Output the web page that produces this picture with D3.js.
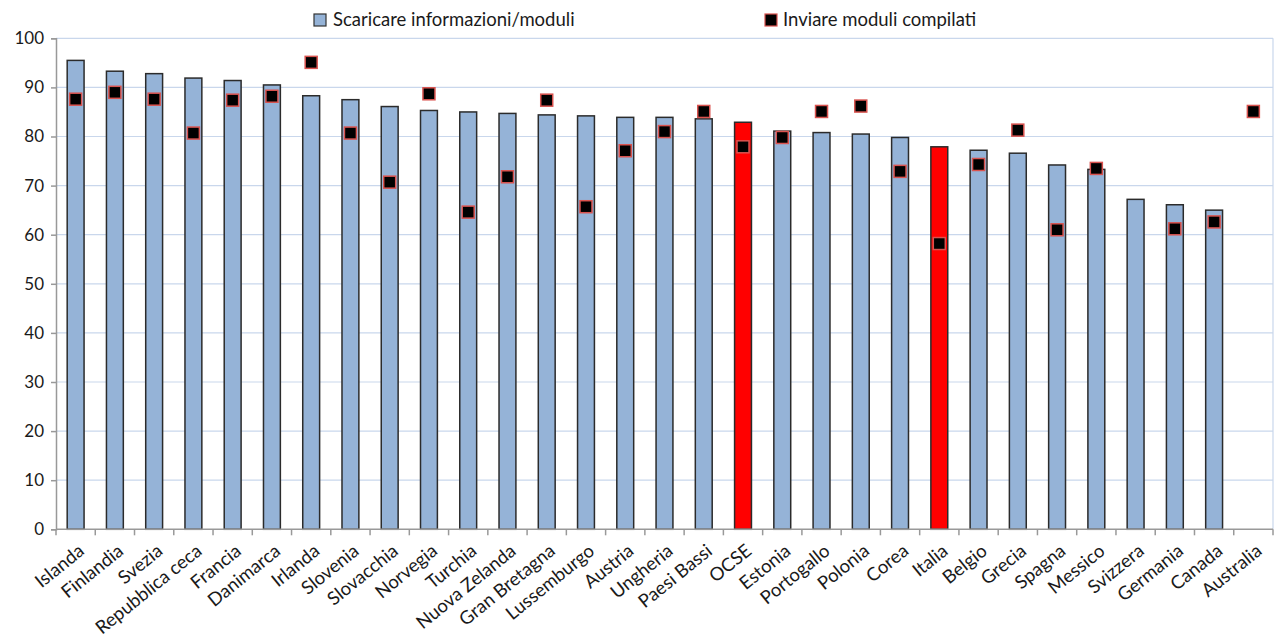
<!DOCTYPE html>
<html><head><meta charset="utf-8">
<script src="https://cdn.jsdelivr.net/npm/d3@7/dist/d3.min.js"></script>
<style>body{margin:0;background:#fff;} svg{display:block;}</style>
</head><body>
<svg id="c" width="1277" height="637"></svg>
<script>
const categories = ["Islanda","Finlandia","Svezia","Repubblica ceca","Francia","Danimarca","Irlanda","Slovenia","Slovacchia","Norvegia","Turchia","Nuova Zelanda","Gran Bretagna","Lussemburgo","Austria","Ungheria","Paesi Bassi","OCSE","Estonia","Portogallo","Polonia","Corea","Italia","Belgio","Grecia","Spagna","Messico","Svizzera","Germania","Canada","Australia"];
const scaricare = [95.5,93.3,92.8,91.9,91.4,90.5,88.3,87.5,86.1,85.3,85.0,84.7,84.4,84.2,83.9,83.9,83.6,82.9,81.1,80.8,80.5,79.8,77.9,77.2,76.6,74.2,73.3,67.2,66.1,65.0,null];
const inviare = [87.6,89.0,87.6,80.7,87.4,88.2,95.1,80.7,70.7,88.7,64.6,71.8,87.4,65.7,77.1,81.0,85.1,77.9,79.8,85.1,86.2,72.9,58.2,74.3,81.3,61.0,73.5,null,61.2,62.6,85.1];
const highlighted = ["OCSE","Italia"];
const yTicks = [0,10,20,30,40,50,60,70,80,90,100];
const seriesNames = ["Scaricare informazioni/moduli","Inviare moduli compilati"];

const svg = d3.select("#c");
const font = "Lato, 'Open Sans', sans-serif";
const L = 56, R = 1273, T = 38.3, B = 529.3;
const x = d3.scaleBand().domain(categories).range([L, R]).paddingInner(0.57).paddingOuter(0.285);
const y = d3.scaleLinear().domain([0, 100]).range([B, T]);
const step = x.step();

// gridlines
svg.append("g").selectAll("line").data(yTicks.filter(d => d > 0)).join("line")
  .attr("x1", L).attr("x2", R).attr("y1", d => y(d)).attr("y2", d => y(d))
  .attr("stroke", "#c9d7ec").attr("stroke-width", 1.2);
svg.append("line").attr("x1", R).attr("x2", R).attr("y1", T).attr("y2", B)
  .attr("stroke", "#c9d7ec").attr("stroke-width", 1.2);

// bars
svg.append("g").selectAll("rect").data(categories.map((c, i) => ({c, v: scaricare[i]})).filter(d => d.v != null)).join("rect")
  .attr("x", d => x(d.c)).attr("width", x.bandwidth())
  .attr("y", d => y(d.v)).attr("height", d => y(0) - y(d.v))
  .attr("fill", d => highlighted.includes(d.c) ? "#ff0000" : "#95b3d7")
  .attr("stroke", "#2b2b2b").attr("stroke-width", 1.5);

// y axis
const yAxis = svg.append("g").attr("transform", `translate(${L},0)`)
  .call(d3.axisLeft(y).tickValues(yTicks).tickSize(5).tickPadding(7));
yAxis.select(".domain").attr("stroke", "#999").attr("stroke-width", 1.5);
yAxis.selectAll(".tick line").attr("stroke", "#999").attr("stroke-width", 1.5);
yAxis.selectAll("text").attr("font-family", font).attr("font-size", 17).attr("fill", "#1a1a1a");

// x axis
const xg = svg.append("g").attr("transform", `translate(0,${B})`);
xg.append("line").attr("x1", L).attr("x2", R).attr("y1", 0).attr("y2", 0)
  .attr("stroke", "#999").attr("stroke-width", 1.5);
xg.selectAll("line.tk").data(categories.concat(["__end"])).join("line").attr("class", "tk")
  .attr("x1", (d, i) => L + i * step).attr("x2", (d, i) => L + i * step)
  .attr("y1", 0).attr("y2", 6).attr("stroke", "#999").attr("stroke-width", 1.5);
xg.selectAll("text").data(categories).join("text")
  .attr("transform", d => `translate(${x(d) + x.bandwidth() / 2 + 1},13) rotate(-39)`)
  .attr("text-anchor", "end").attr("dy", "0.75em")
  .attr("font-family", font).attr("font-size", 18.5).attr("fill", "#1a1a1a")
  .text(d => d);

// markers
const ms = 12;
svg.append("g").selectAll("rect").data(categories.map((c, i) => ({c, v: inviare[i]})).filter(d => d.v != null)).join("rect")
  .attr("x", d => x(d.c) + x.bandwidth() / 2 - ms / 2).attr("y", d => y(d.v) - ms / 2)
  .attr("width", ms).attr("height", ms)
  .attr("fill", "#000").attr("stroke", "#d9534f").attr("stroke-width", 1.5);

// legend
const leg = svg.append("g");
leg.append("rect").attr("x", 314).attr("y", 14).attr("width", 12).attr("height", 12)
  .attr("fill", "#95b3d7").attr("stroke", "#333").attr("stroke-width", 1.2);
leg.append("text").attr("x", 333).attr("y", 20).attr("dy", "0.35em")
  .attr("font-family", font).attr("font-size", 18.5).attr("fill", "#1a1a1a").text(seriesNames[0]);
leg.append("rect").attr("x", 765).attr("y", 14).attr("width", 12).attr("height", 12)
  .attr("fill", "#000").attr("stroke", "#d9534f").attr("stroke-width", 1.2);
leg.append("text").attr("x", 783).attr("y", 20).attr("dy", "0.35em")
  .attr("font-family", font).attr("font-size", 18.5).attr("fill", "#1a1a1a").text(seriesNames[1]);
</script>
</body></html>
